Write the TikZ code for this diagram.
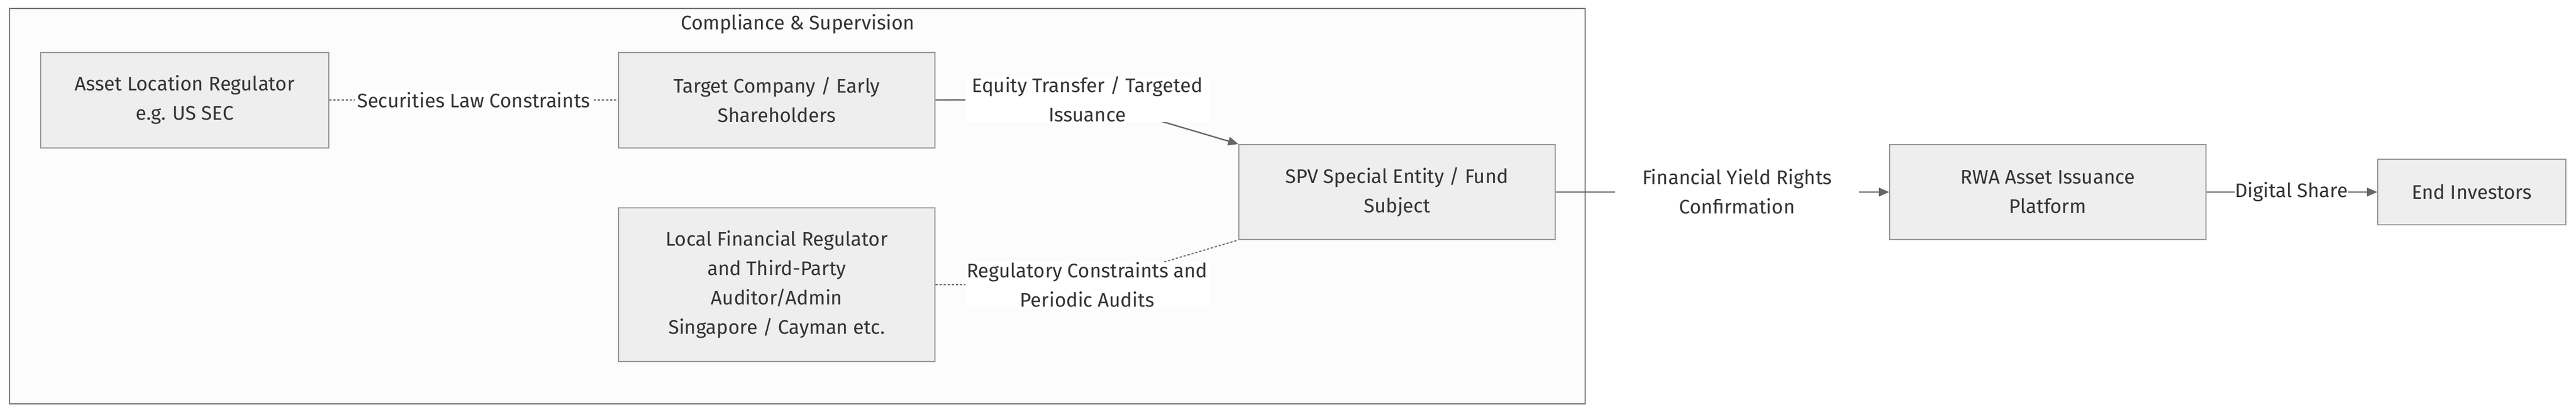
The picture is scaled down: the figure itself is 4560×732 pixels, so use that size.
\documentclass[tikz,border=0pt]{standalone}
\usepackage{fontspec}
\setmainfont{Fira Sans}
\usetikzlibrary{arrows.meta}
\definecolor{boxfill}{HTML}{EEEEEE}
\definecolor{boxline}{HTML}{999999}
\definecolor{edgeline}{HTML}{666666}
\definecolor{txt}{HTML}{333333}
\pgfdeclarelayer{cluster}
\pgfdeclarelayer{edges}
\pgfsetlayers{cluster,edges,main}
\tikzset{
  entity/.style={draw=boxline, fill=boxfill, line width=0.5pt, align=center, inner sep=0pt, text=txt},
  edgelabel/.style={fill=white, align=center, inner sep=0pt, text=txt},
  widelabel/.style={edgelabel, text width=108pt, align=flush center},
  flow/.style={draw=edgeline, line width=0.6pt},
  dots/.style={draw=edgeline, line width=0.5pt, dash pattern=on 1pt off 0.8pt},
  tip/.style={-{Triangle[length=4.5pt,width=3.8pt]}}
}
\begin{document}
\begin{tikzpicture}[x=0.25pt,y=-0.25pt,font=\fontsize{8.7}{13}\selectfont]
\useasboundingbox (0,0) rectangle (4560,732);

\begin{pgfonlayer}{cluster}
\filldraw[fill=black!1, draw=black!53, line width=0.6pt] (17,15) rectangle (2806,715);
\end{pgfonlayer}
\node[text=txt] at (1412,43) (title) {Compliance \& Supervision};

\node[entity, minimum width=127.5pt, minimum height=42.25pt] at (327,177) (asset) {Asset Location Regulator\\e.g. US SEC};
\node[entity, minimum width=140pt, minimum height=42.25pt] at (1375,177) (target) {Target Company / Early\\Shareholders};
\node[entity, minimum width=140pt, minimum height=68pt] at (1375,504) (local) {Local Financial Regulator\\and Third-Party\\Auditor/Admin\\Singapore / Cayman etc.};
\node[entity, minimum width=140pt, minimum height=42pt] at (2473,340) (spv) {SPV Special Entity / Fund\\Subject};
\node[entity, minimum width=140pt, minimum height=42pt] at (3625,340) (rwa) {RWA Asset Issuance\\Platform};
\node[entity, minimum width=83.25pt, minimum height=29pt] at (4375.5,340) (investors) {End Investors};

\node[edgelabel, inner xsep=1pt] at (838.5,177) (seclaw) {Securities Law Constraints};
\node[widelabel] at (1924.5,176) (equity) {Equity Transfer / Targeted\\Issuance};
\node[widelabel] at (1924.5,504) (audits) {Regulatory Constraints and\\Periodic Audits};
\node[widelabel] at (3075,339) (yield) {Financial Yield Rights\\Confirmation};
\node[edgelabel] at (4056,340) (share) {Digital Share};

\begin{pgfonlayer}{edges}
\draw[dots] (asset.east) -- (target.west);
\draw[flow, tip] (target.east) -- (equity.center) -- (spv.north west);
\draw[dots] (local.east) -- (audits.center) -- (spv.south west);
\draw[flow, tip] (spv.east) -- (rwa.west);
\draw[flow, tip] (rwa.east) -- (investors.west);
\end{pgfonlayer}
\end{tikzpicture}
\end{document}
